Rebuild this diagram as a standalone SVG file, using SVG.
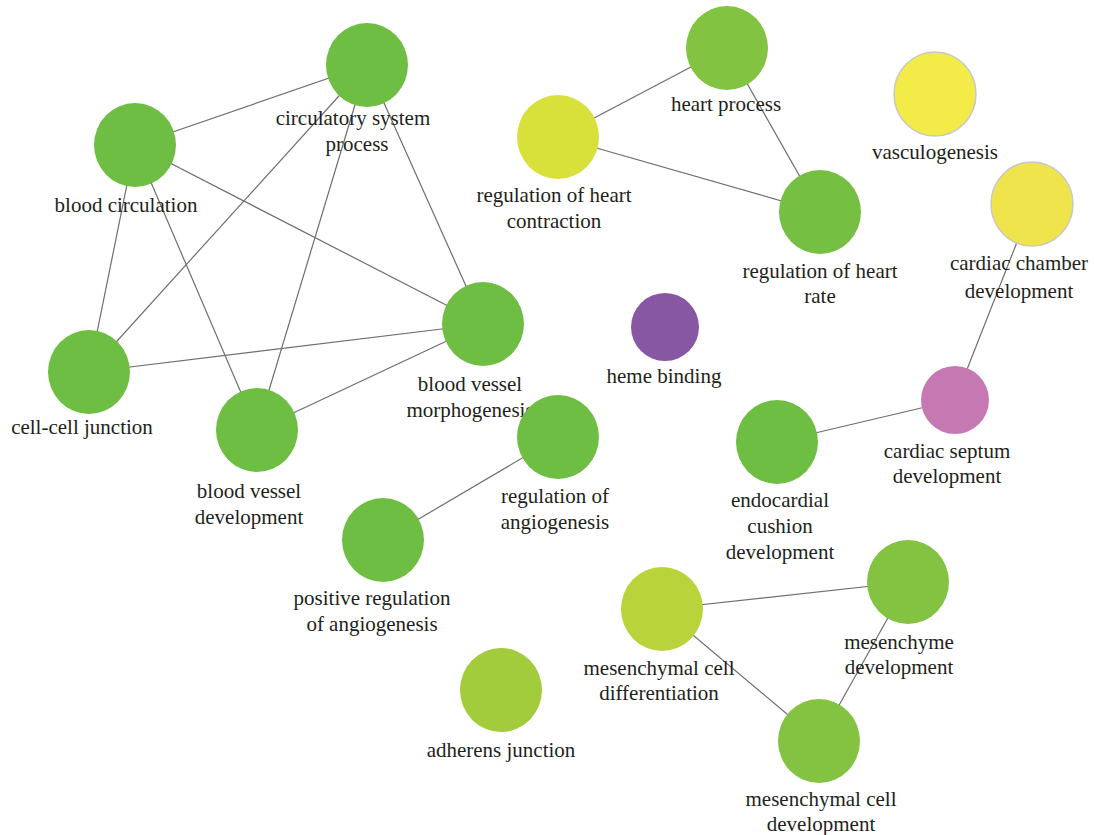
<svg xmlns="http://www.w3.org/2000/svg" width="1094" height="835" viewBox="0 0 1094 835">
<style>
.e{stroke:#6e6e6e;stroke-width:1.2;fill:none}
.n{stroke:none}
.b{stroke:#c8c8c8;stroke-width:1.5}
text{font-family:"Liberation Serif","DejaVu Serif",serif;font-size:21px;fill:#231f20;text-anchor:middle}
</style>
<rect width="1094" height="835" fill="#ffffff"/>
<g id="connectors">
<line class="e" x1="135" y1="145" x2="367" y2="65"/>
<line class="e" x1="135" y1="145" x2="89" y2="372"/>
<line class="e" x1="135" y1="145" x2="257" y2="430"/>
<line class="e" x1="135" y1="145" x2="483" y2="324"/>
<line class="e" x1="367" y1="65" x2="89" y2="372"/>
<line class="e" x1="367" y1="65" x2="257" y2="430"/>
<line class="e" x1="367" y1="65" x2="483" y2="324"/>
<line class="e" x1="89" y1="372" x2="483" y2="324"/>
<line class="e" x1="257" y1="430" x2="483" y2="324"/>
<line class="e" x1="558" y1="137" x2="727" y2="48"/>
<line class="e" x1="558" y1="137" x2="820" y2="212"/>
<line class="e" x1="727" y1="48" x2="820" y2="212"/>
<line class="e" x1="1032" y1="204" x2="955" y2="400"/>
<line class="e" x1="955" y1="400" x2="777" y2="442"/>
<line class="e" x1="558" y1="437" x2="383" y2="540"/>
<line class="e" x1="662" y1="609" x2="908" y2="582"/>
<line class="e" x1="662" y1="609" x2="819" y2="741"/>
<line class="e" x1="908" y1="582" x2="819" y2="741"/>
</g>
<g id="circulatory-system-process"><ellipse class="n" cx="367" cy="65" rx="41" ry="42" fill="#6fbe44"/><text x="353" y="125">circulatory system</text><text x="357" y="151">process</text></g>
<g id="blood-circulation"><ellipse class="n" cx="135" cy="145" rx="41" ry="42" fill="#6fbe44"/><text x="126" y="212">blood circulation</text></g>
<g id="cell-cell-junction"><ellipse class="n" cx="89" cy="372" rx="41" ry="42" fill="#6fbe44"/><text x="82" y="434">cell-cell junction</text></g>
<g id="blood-vessel-development"><ellipse class="n" cx="257" cy="430" rx="41" ry="42" fill="#6fbe44"/><text x="249" y="498">blood vessel</text><text x="249" y="524">development</text></g>
<g id="blood-vessel-morphogenesis"><ellipse class="n" cx="483" cy="324" rx="41" ry="42" fill="#6fbe44"/><text x="470" y="391">blood vessel</text><text x="470" y="417">morphogenesis</text></g>
<g id="regulation-of-heart-contraction"><ellipse class="n" cx="558" cy="137" rx="41" ry="42" fill="#d8e03a"/><text x="554" y="202">regulation of heart</text><text x="554" y="228">contraction</text></g>
<g id="heart-process"><ellipse class="n" cx="727" cy="48" rx="41" ry="42" fill="#82c341"/><text x="726" y="111">heart process</text></g>
<g id="regulation-of-heart-rate"><ellipse class="n" cx="820" cy="212" rx="41" ry="42" fill="#75c043"/><text x="820" y="278">regulation of heart</text><text x="820" y="303">rate</text></g>
<g id="vasculogenesis"><ellipse class="b" cx="935" cy="94" rx="41" ry="42" fill="#f3eb47"/><text x="935" y="159">vasculogenesis</text></g>
<g id="cardiac-chamber-development"><ellipse class="b" cx="1032" cy="204" rx="41" ry="42" fill="#f0e44c"/><text x="1019" y="270">cardiac chamber</text><text x="1019" y="298">development</text></g>
<g id="heme-binding"><ellipse class="n" cx="665" cy="327" rx="34" ry="34" fill="#8857a4"/><text x="664" y="383">heme binding</text></g>
<g id="cardiac-septum-development"><ellipse class="n" cx="955" cy="400" rx="34" ry="34" fill="#c678b3"/><text x="947" y="458">cardiac septum</text><text x="947" y="483">development</text></g>
<g id="endocardial-cushion-development"><ellipse class="n" cx="777" cy="442" rx="41" ry="42" fill="#6fbe44"/><text x="780" y="507">endocardial</text><text x="780" y="533">cushion</text><text x="780" y="559">development</text></g>
<g id="regulation-of-angiogenesis"><ellipse class="n" cx="558" cy="437" rx="41" ry="42" fill="#6fbe44"/><text x="555" y="503">regulation of</text><text x="555" y="529">angiogenesis</text></g>
<g id="positive-regulation-of-angiogenesis"><ellipse class="n" cx="383" cy="540" rx="41" ry="42" fill="#6fbe44"/><text x="372" y="605">positive regulation</text><text x="372" y="631">of angiogenesis</text></g>
<g id="mesenchymal-cell-differentiation"><ellipse class="n" cx="662" cy="609" rx="41" ry="42" fill="#b9d43b"/><text x="659" y="675">mesenchymal cell</text><text x="659" y="700">differentiation</text></g>
<g id="mesenchyme-development"><ellipse class="n" cx="908" cy="582" rx="41" ry="42" fill="#84c341"/><text x="899" y="649">mesenchyme</text><text x="899" y="674">development</text></g>
<g id="adherens-junction"><ellipse class="n" cx="501" cy="690" rx="41" ry="42" fill="#a3cc3c"/><text x="501" y="757">adherens junction</text></g>
<g id="mesenchymal-cell-development"><ellipse class="n" cx="819" cy="741" rx="41" ry="42" fill="#84c341"/><text x="821" y="806">mesenchymal cell</text><text x="821" y="831">development</text></g>
</svg>
